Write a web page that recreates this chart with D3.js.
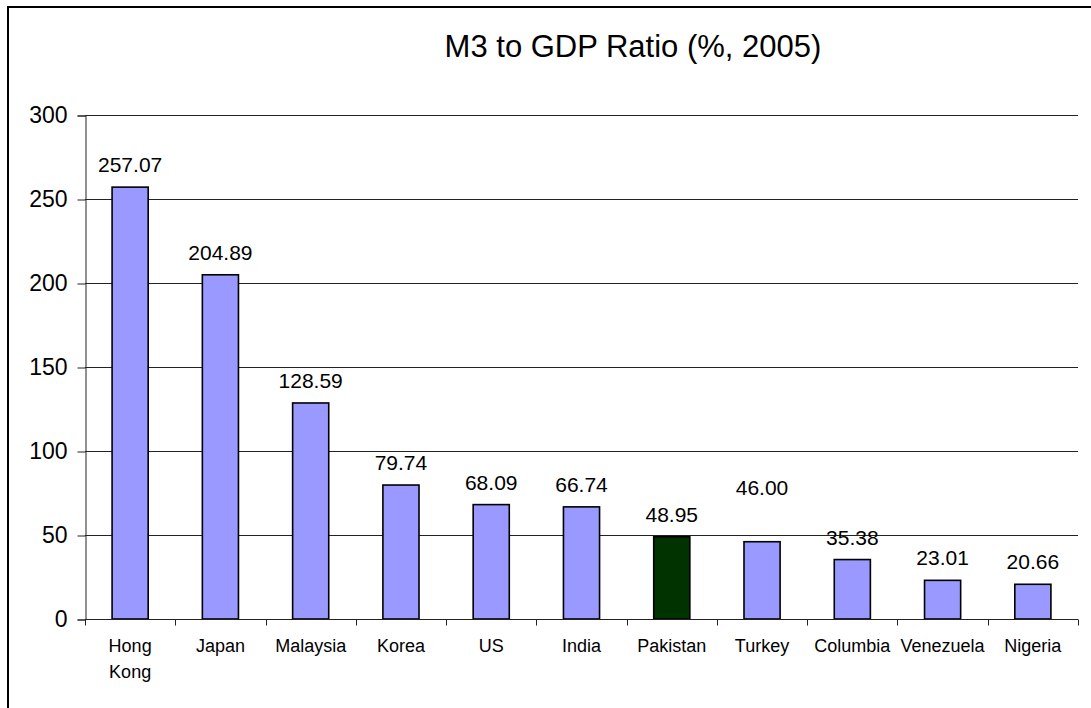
<!DOCTYPE html>
<html lang="en">
<head>
<meta charset="utf-8">
<title>M3 to GDP Ratio</title>
<script src="https://cdn.jsdelivr.net/npm/d3@7"></script>
<style>
  body { margin: 0; background: #fff; }
  svg { display: block; font-family: "Liberation Sans", Arial, sans-serif; }
</style>
</head>
<body>
<div id="chart"></div>
<script>
// data
const countries = ["Hong Kong", "Japan", "Malaysia", "Korea", "US", "India",
  "Pakistan", "Turkey", "Columbia", "Venezuela", "Nigeria"];
const ratios = [257.07, 204.89, 128.59, 79.74, 68.09, 66.74, 48.95, 46.00, 35.38, 23.01, 20.66];
const yTicks = [0, 50, 100, 150, 200, 250, 300];
const highlight = "Pakistan";

const w = 1091, h = 708;
const pLeft = 85, pRight = 1078, pTop = 115, pBottom = 619;

const data = countries.map((c, i) => ({ name: c, value: ratios[i] }));

const svg = d3.select("#chart").append("svg")
  .attr("width", w)
  .attr("height", h);

// outer frame (runs off the right and bottom edges)
svg.append("rect")
  .attr("x", 8).attr("y", 7)
  .attr("width", 1200).attr("height", 800)
  .attr("fill", "none")
  .attr("stroke", "#000")
  .attr("stroke-width", 2);

const x = d3.scaleBand()
  .domain(countries)
  .range([pLeft, pRight])
  .padding(0);

const y = d3.scaleLinear()
  .domain([0, 300])
  .range([pBottom, pTop]);

const barW = x.bandwidth() * 0.4;

// gridlines
svg.append("g")
  .selectAll("line")
  .data(yTicks.filter(t => t > 0))
  .enter()
  .append("line")
  .attr("x1", pLeft).attr("x2", pRight)
  .attr("y1", d => Math.round(y(d)) + 0.5)
  .attr("y2", d => Math.round(y(d)) + 0.5)
  .attr("stroke", "#222")
  .attr("stroke-width", 1);

// y axis
const yAxis = d3.axisLeft(y)
  .tickValues(yTicks)
  .tickSize(8)
  .tickPadding(10);

const yg = svg.append("g")
  .attr("transform", "translate(" + (pLeft + 0.5) + ",0.5)")
  .call(yAxis);
yg.select(".domain").attr("stroke", "#222");
yg.selectAll(".tick line").attr("stroke", "#222");
yg.selectAll("text")
  .attr("font-size", 23)
  .attr("font-family", "Liberation Sans, Arial, sans-serif")
  .attr("fill", "#000");

// bars
svg.append("g")
  .selectAll("rect")
  .data(data)
  .enter()
  .append("rect")
  .attr("x", d => x(d.name) + (x.bandwidth() - barW) / 2)
  .attr("y", d => y(d.value))
  .attr("width", barW)
  .attr("height", d => y(0) - y(d.value))
  .attr("fill", d => d.name === highlight ? "#003300" : "#9999ff")
  .attr("stroke", "#000")
  .attr("stroke-width", 1.6);

// x axis
const xAxis = d3.axisBottom(x)
  .tickValues([])
  .tickSizeOuter(0);

const xg = svg.append("g")
  .attr("transform", "translate(0," + (pBottom + 0.5) + ")")
  .call(xAxis);
xg.select(".domain").attr("stroke", "#222").attr("d", "M" + pLeft + ",0H" + pRight);

// tick marks sit on band boundaries
xg.selectAll("line.sep")
  .data(d3.range(countries.length + 1))
  .enter()
  .append("line")
  .attr("class", "sep")
  .attr("x1", i => Math.round(pLeft + i * x.step()) + 0.5)
  .attr("x2", i => Math.round(pLeft + i * x.step()) + 0.5)
  .attr("y1", 0).attr("y2", 6)
  .attr("stroke", "#222");

// category labels (Hong Kong wraps onto two lines)
const cat = svg.append("g")
  .selectAll("text")
  .data(data)
  .enter()
  .append("text")
  .attr("x", d => x(d.name) + x.bandwidth() / 2)
  .attr("y", 652)
  .attr("text-anchor", "middle")
  .attr("font-size", 18)
  .attr("fill", "#000");

cat.each(function (d) {
  const words = d.name === "Hong Kong" ? ["Hong", "Kong"] : [d.name];
  const t = d3.select(this);
  words.forEach((wd, i) => {
    t.append("tspan")
      .attr("x", x(d.name) + x.bandwidth() / 2)
      .attr("dy", i === 0 ? 0 : 26)
      .text(wd);
  });
});

// value labels; Turkey's label floats higher in the original
const labelLift = { Turkey: 32 };
svg.append("g")
  .selectAll("text")
  .data(data)
  .enter()
  .append("text")
  .attr("x", d => x(d.name) + x.bandwidth() / 2)
  .attr("y", d => y(d.value) - 15 - (labelLift[d.name] || 0))
  .attr("text-anchor", "middle")
  .attr("font-size", 21)
  .attr("fill", "#000")
  .text(d => d.value.toFixed(2));

// title
svg.append("text")
  .attr("x", 633)
  .attr("y", 57)
  .attr("text-anchor", "middle")
  .attr("font-size", 31)
  .attr("fill", "#000")
  .text("M3 to GDP Ratio (%, 2005)");
</script>
</body>
</html>
